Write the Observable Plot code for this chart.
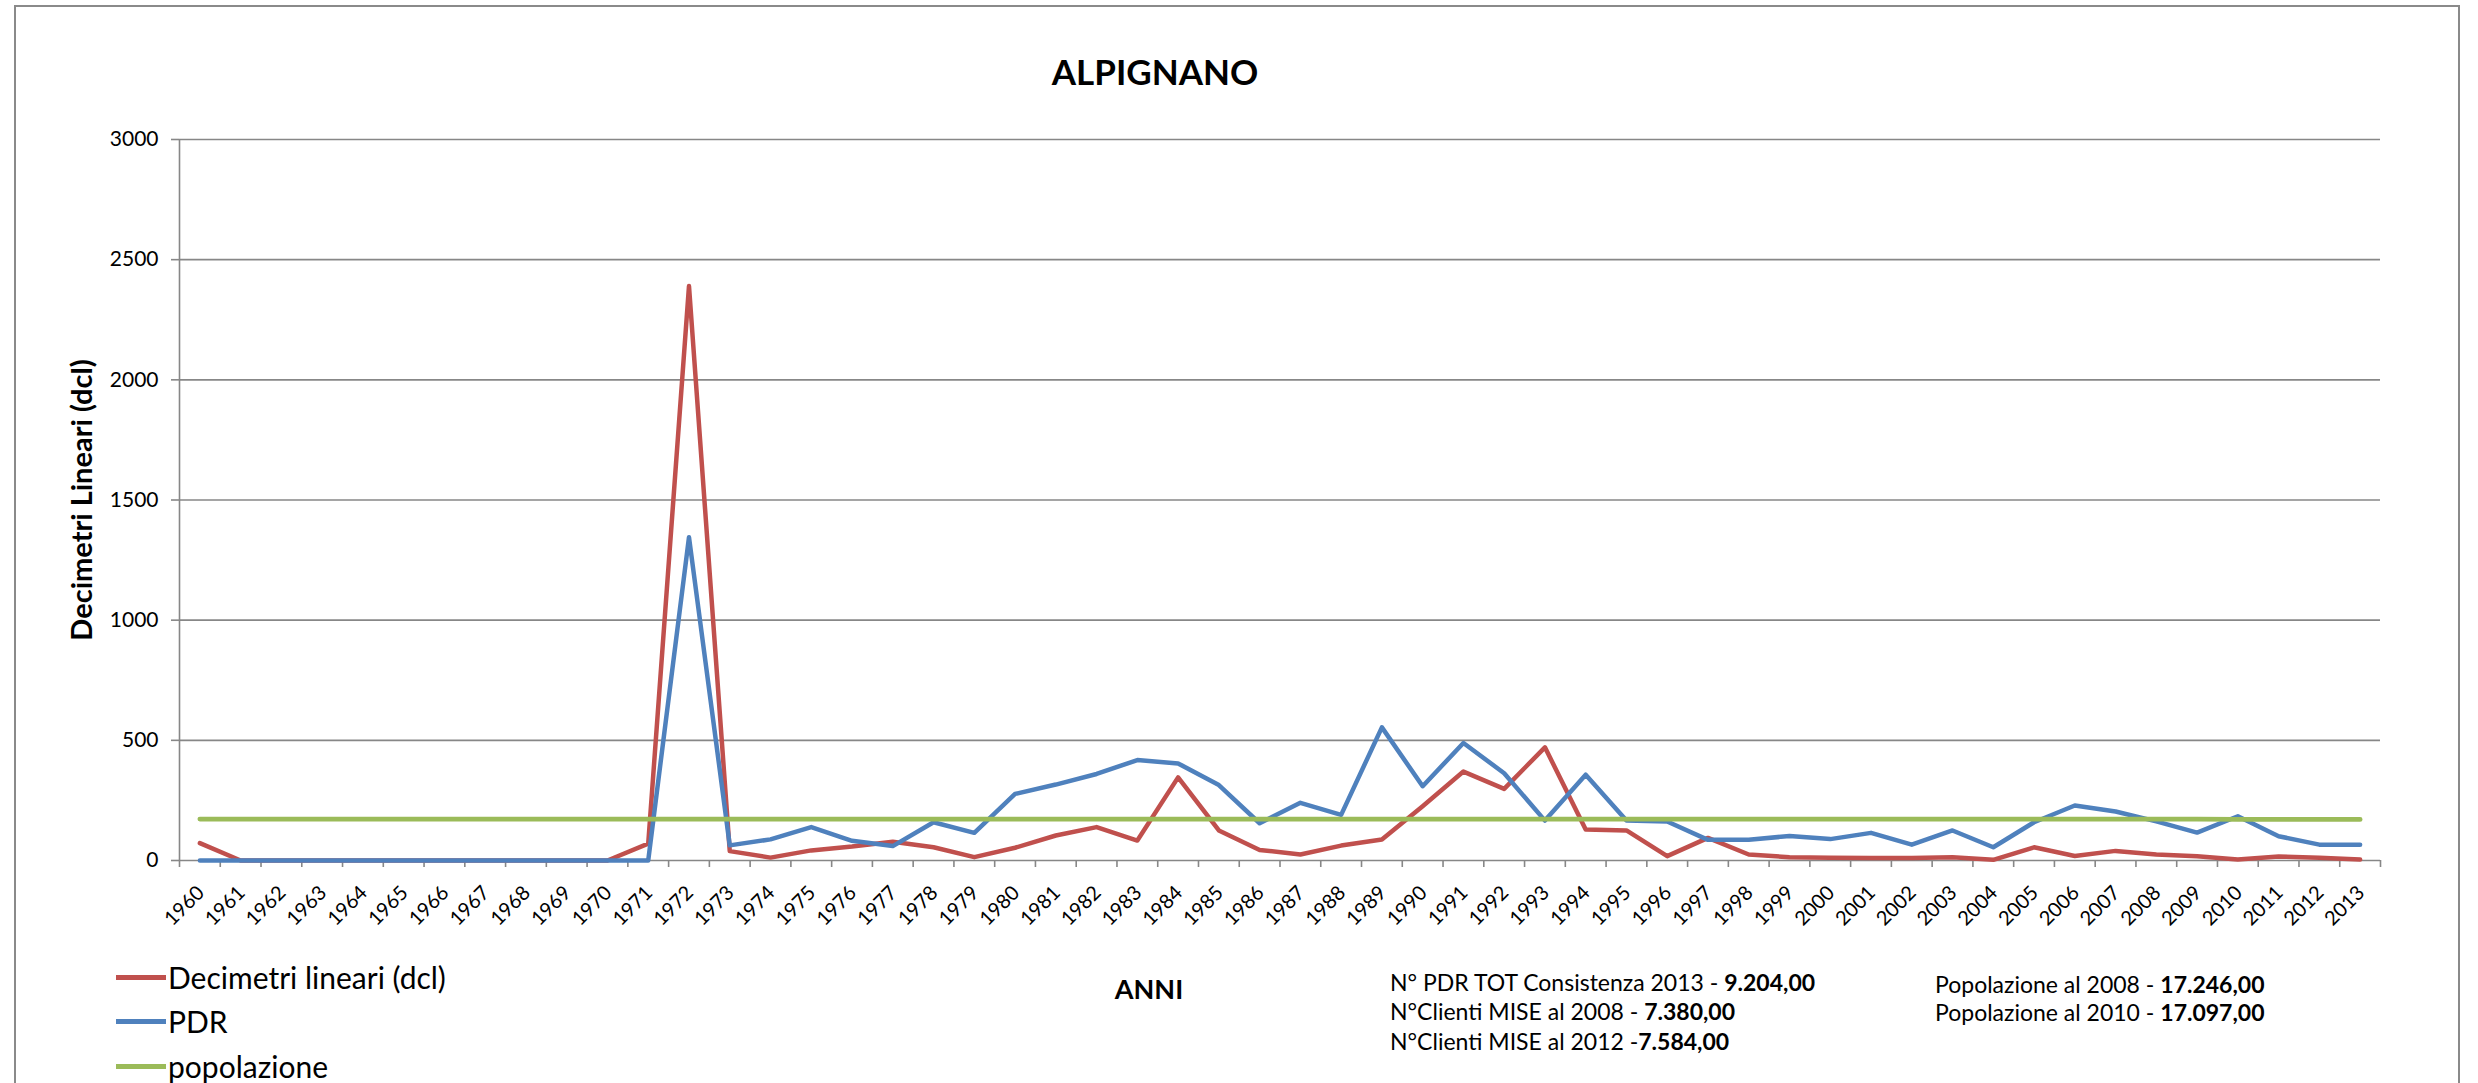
<!DOCTYPE html>
<html>
<head>
<meta charset="utf-8">
<script src="https://cdn.jsdelivr.net/npm/d3@7"></script>
<script src="https://cdn.jsdelivr.net/npm/@observablehq/plot@0.6"></script>
<style>
  html, body { margin: 0; padding: 0; background: #fff; }
  body { width: 2478px; height: 1083px; overflow: hidden; position: relative; font-family: Lato, "Open Sans", sans-serif; color: #000; }
  #frame { position: absolute; left: 14px; top: 5px; width: 2446px; height: 1200px; border: 2px solid #8a8a8a; box-sizing: border-box; }
  #chart { position: absolute; left: 0; top: 0; }
  .lbl { position: absolute; white-space: nowrap; line-height: 1; }
  .c { transform: translate(-50%, -50%); }
  .l { transform: translate(0, -50%); }
  .dash { position: absolute; width: 50px; height: 5px; }
</style>
</head>
<body>
<div id="frame"></div>
<div id="chart"></div>
<div class="lbl c" style="left:1155px; top:71px; font-size:35px; font-weight:bold;">ALPIGNANO</div>
<div class="lbl c" style="left:1149px; top:988px; font-size:27px; font-weight:bold;">ANNI</div>
<div id="legend"></div>
<div class="lbl l" style="left:1390px; top:982px; font-size:23px;">N° PDR TOT Consistenza 2013 - <b>9.204,00</b></div>
<div class="lbl l" style="left:1390px; top:1011px; font-size:23px;">N°Clienti MISE al 2008 - <b>7.380,00</b></div>
<div class="lbl l" style="left:1390px; top:1041px; font-size:23px;">N°Clienti MISE al 2012 -<b>7.584,00</b></div>
<div class="lbl l" style="left:1935px; top:984px; font-size:23px;">Popolazione al 2008 - <b>17.246,00</b></div>
<div class="lbl l" style="left:1935px; top:1012px; font-size:23px;">Popolazione al 2010 - <b>17.097,00</b></div>
<script>
const years = [1960,1961,1962,1963,1964,1965,1966,1967,1968,1969,1970,1971,1972,1973,1974,1975,1976,1977,1978,1979,1980,1981,1982,1983,1984,1985,1986,1987,1988,1989,1990,1991,1992,1993,1994,1995,1996,1997,1998,1999,2000,2001,2002,2003,2004,2005,2006,2007,2008,2009,2010,2011,2012,2013];

const decimetri = [72,0,0,0,0,0,0,0,0,0,0,70,2390,39,12,42,58,78,55,14,53,104,139,83,346,125,44,25,62,87,226,370,298,471,129,125,18,94,25,14,11,10,10,14,3,55,19,40,25,18,4,17,11,4];

const pdr = [0,0,0,0,0,0,0,0,0,0,0,0,1345,63,88,139,82,60,159,115,277,316,360,418,404,314,155,240,190,554,309,489,363,166,357,166,162,86,86,102,89,115,66,125,55,159,229,204,163,116,184,101,66,66];

const popolazione = [172.46,172.46,172.46,172.46,172.46,172.46,172.46,172.46,172.46,172.46,172.46,172.46,172.46,172.46,172.46,172.46,172.46,172.46,172.46,172.46,172.46,172.46,172.46,172.46,172.46,172.46,172.46,172.46,172.46,172.46,172.46,172.46,172.46,172.46,172.46,172.46,172.46,172.46,172.46,172.46,172.46,172.46,172.46,172.46,172.46,172.46,172.46,172.46,172.46,172.46,170.97,170.97,170.97,170.97];

const yTicks = [0,500,1000,1500,2000,2500,3000];

const seriesNames = ["Decimetri lineari (dcl)", "PDR", "popolazione"];
const seriesColors = ["#C0504D", "#4F81BD", "#9BBB59"];

const rows = years.map((y, i) => ({year: y, dcl: decimetri[i], pdr: pdr[i], pop: popolazione[i]}));
const boundaries = [...years.map(y => y - 0.5), years[years.length - 1] + 0.5];

const grid = "#878787";

const chart = Plot.plot({
  width: 2478,
  height: 1083,
  marginLeft: 179,
  marginRight: 98,
  marginTop: 139,
  marginBottom: 223,
  x: {type: "linear", domain: [years[0] - 0.5, years[years.length - 1] + 0.5], axis: null},
  y: {domain: [0, 3000], axis: null},
  style: {fontFamily: "Lato, 'Open Sans', sans-serif", background: "transparent", overflow: "visible", color: "#000"},
  marks: [
    Plot.ruleY(yTicks, {stroke: grid, strokeWidth: 1.6}),
    Plot.ruleX([years[0] - 0.5], {y1: 0, y2: 3000, stroke: grid, strokeWidth: 1.6}),
    Plot.axisY(yTicks, {anchor: "left", tickSize: 8, tickPadding: 13, tickFormat: d => String(d), fontSize: 21, stroke: grid, fill: "#000", label: null, strokeWidth: 1.6}),
    Plot.axisX(boundaries, {anchor: "bottom", tickSize: 7, tickPadding: 0, tickFormat: () => "", stroke: grid, label: null, strokeWidth: 1.6}),
    Plot.text(years, {x: d => d, y: () => 0, text: d => String(d), rotate: -45, textAnchor: "end", lineAnchor: "middle", dx: 1, dy: 29, fontSize: 20, fill: "#000"}),
    Plot.line(rows, {x: "year", y: "dcl", stroke: seriesColors[0], strokeWidth: 4.5, strokeLinejoin: "round"}),
    Plot.line(rows, {x: "year", y: "pdr", stroke: seriesColors[1], strokeWidth: 4.5, strokeLinejoin: "round"}),
    Plot.line(rows, {x: "year", y: "pop", stroke: seriesColors[2], strokeWidth: 4.8, strokeLinejoin: "round"}),
    Plot.text(["Decimetri Lineari (dcl)"], {frameAnchor: "left", rotate: -90, dx: -97, textAnchor: "middle", fontSize: 29, fontWeight: "bold", fill: "#000"})
  ]
});
document.getElementById("chart").appendChild(chart);

const legend = document.getElementById("legend");
const legendY = [977, 1021, 1066];
seriesNames.forEach((name, i) => {
  const d = document.createElement("div");
  d.className = "dash";
  d.style.left = "116px";
  d.style.top = (legendY[i] - 2.5) + "px";
  d.style.background = seriesColors[i];
  legend.appendChild(d);
  const t = document.createElement("div");
  t.className = "lbl l";
  t.style.left = "168px";
  t.style.top = legendY[i] + "px";
  t.style.fontSize = "30px";
  t.textContent = name;
  legend.appendChild(t);
});
</script>
</body>
</html>
